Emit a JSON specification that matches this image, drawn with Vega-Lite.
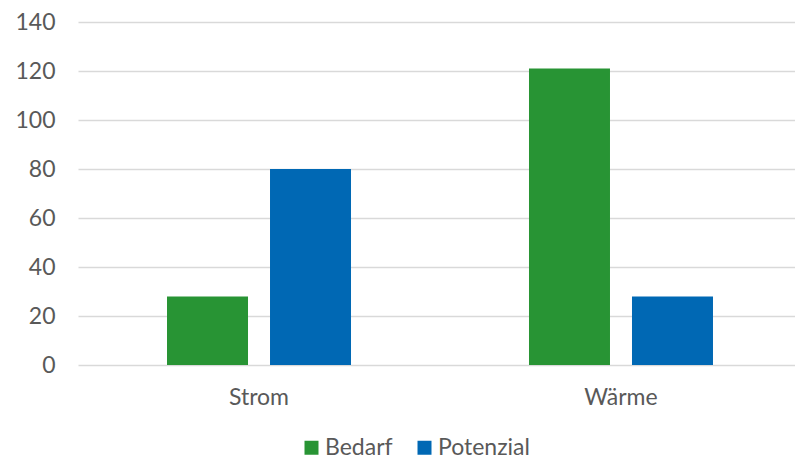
{
  "$schema": "https://vega.github.io/schema/vega-lite/v6.json",
  "width": 717,
  "height": 343,
  "padding": {"left": 78, "top": 22, "right": 0, "bottom": 94},
  "autosize": {"type": "none"},
  "background": "white",
  "config": {
    "view": {"stroke": null},
    "font": "Lato",
    "axis": {"labelFont": "Lato", "labelColor": "#595959", "labelFontSize": 23, "domain": false, "ticks": false, "title": null},
    "legend": {"labelFont": "Lato", "labelColor": "#595959", "labelFontSize": 23}
  },
  "data": {
    "values": [
      {"kategorie": "Strom", "serie": "Bedarf", "wert": 28},
      {"kategorie": "Strom", "serie": "Potenzial", "wert": 80},
      {"kategorie": "Wärme", "serie": "Bedarf", "wert": 121},
      {"kategorie": "Wärme", "serie": "Potenzial", "wert": 28}
    ]
  },
  "mark": {"type": "bar"},
  "encoding": {
    "x": {
      "field": "kategorie", "type": "nominal", "sort": ["Strom", "Wärme"],
      "scale": {"range": [0, 724], "paddingInner": 0.4917, "paddingOuter": 0.2459},
      "axis": {"labelAngle": 0, "labelPadding": 21, "grid": false}
    },
    "xOffset": {
      "field": "serie", "type": "nominal", "sort": ["Bedarf", "Potenzial"],
      "scale": {"paddingInner": 0.2136, "paddingOuter": 0}
    },
    "y": {
      "field": "wert", "type": "quantitative",
      "scale": {"domain": [0, 140], "nice": false},
      "axis": {"values": [0, 20, 40, 60, 80, 100, 120, 140], "grid": true, "gridColor": "#d9d9d9", "gridWidth": 1.5, "labelPadding": 23}
    },
    "color": {
      "field": "serie", "type": "nominal", "sort": ["Bedarf", "Potenzial"],
      "scale": {"domain": ["Bedarf", "Potenzial"], "range": ["#289434", "#0068b4"]},
      "legend": {"title": null, "orient": "none", "direction": "horizontal", "legendX": 222, "legendY": 414, "symbolType": "square", "symbolSize": 196, "symbolStrokeWidth": 0, "columnPadding": 20, "labelOffset": 2, "padding": 0}
    }
  }
}
